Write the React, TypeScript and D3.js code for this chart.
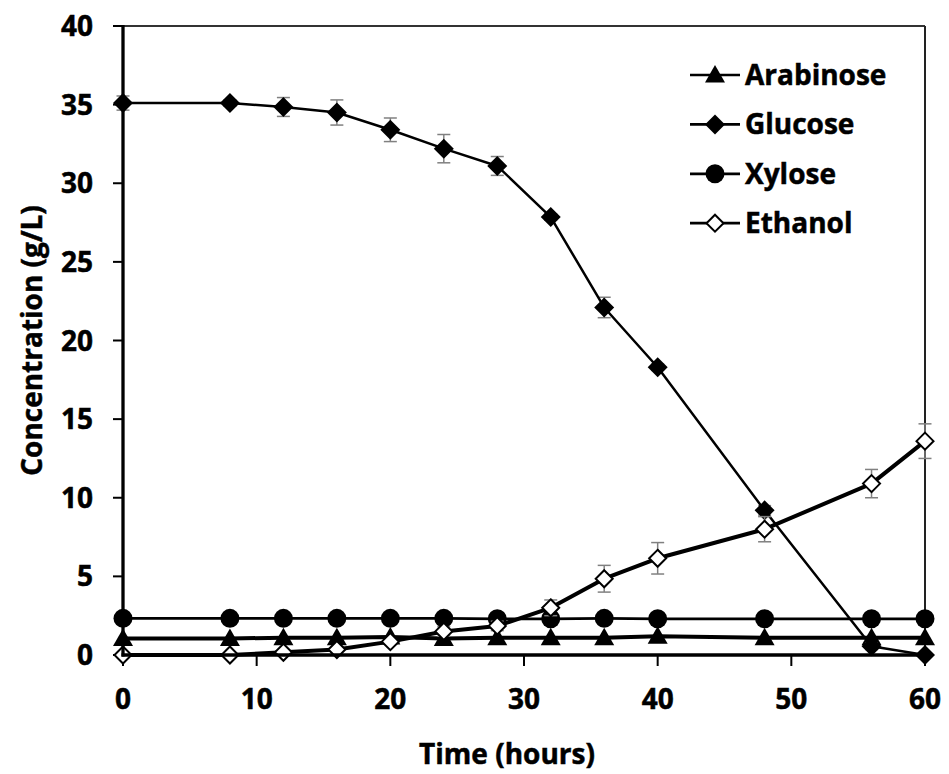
import React from "react";
import * as d3 from "d3";

const times = [0, 8, 12, 16, 20, 24, 28, 32, 36, 40, 48, 56, 60];
const arabinose = [1.05, 1.05, 1.1, 1.1, 1.15, 1.05, 1.1, 1.1, 1.1, 1.2, 1.1, 1.1, 1.1];
const glucose = [35.1, 35.1, 34.85, 34.5, 33.4, 32.2, 31.1, 27.85, 22.1, 18.3, 9.2, 0.55, 0];
const glucoseErr = [0.45, 0.2, 0.6, 0.8, 0.75, 0.9, 0.6, 0.2, 0.65, 0.2, 0.3, 0.2, 0];
const xylose = [2.33, 2.33, 2.33, 2.33, 2.33, 2.33, 2.3, 2.3, 2.33, 2.3, 2.3, 2.3, 2.3];
const ethanol = [0, 0, 0.17, 0.35, 0.85, 1.5, 1.85, 3.0, 4.85, 6.15, 8.0, 10.9, 13.6];
const ethanolErr = [0.05, 0.05, 0.1, 0.1, 0.1, 0.3, 0.3, 0.5, 0.85, 1.0, 0.8, 0.9, 1.1];
const yTicks = [0, 5, 10, 15, 20, 25, 30, 35, 40];
const xTicks = [0, 10, 20, 30, 40, 50, 60];
const seriesNames = ["Arabinose", "Glucose", "Xylose", "Ethanol"];

const W = 949;
const H = 774;
const left = 123;
const right = 925;
const top = 26;
const bottom = 655;
const FONT = "'Open Sans', sans-serif";

type Kind = "triangle" | "diamond" | "circle" | "hollow";

function Marker({ kind, x, y }: { kind: Kind; x: number; y: number }) {
  if (kind === "circle") return <circle cx={x} cy={y} r={9.5} fill="#000" />;
  if (kind === "triangle")
    return <path d={`M${x},${y - 10}L${x + 10},${y + 7.5}L${x - 10},${y + 7.5}Z`} fill="#000" />;
  if (kind === "diamond")
    return <path d={`M${x},${y - 10}L${x + 10},${y}L${x},${y + 10}L${x - 10},${y}Z`} fill="#000" />;
  return (
    <path
      d={`M${x},${y - 8.5}L${x + 8.5},${y}L${x},${y + 8.5}L${x - 8.5},${y}Z`}
      fill="#fff"
      stroke="#000"
      strokeWidth={2}
    />
  );
}

export default function App() {
  const x = d3.scaleLinear().domain([0, 60]).range([left, right]);
  const y = d3.scaleLinear().domain([0, 40]).range([bottom, top]);
  const line = d3
    .line<number>()
    .x((_, i) => x(times[i]))
    .y((d) => y(d));

  const series: { name: string; vals: number[]; err: number[] | null; kind: Kind; lw: number }[] = [
    { name: seriesNames[0], vals: arabinose, err: null, kind: "triangle", lw: 4 },
    { name: seriesNames[1], vals: glucose, err: glucoseErr, kind: "diamond", lw: 2.5 },
    { name: seriesNames[2], vals: xylose, err: null, kind: "circle", lw: 2.7 },
    { name: seriesNames[3], vals: ethanol, err: ethanolErr, kind: "hollow", lw: 4 },
  ];

  const legendY = (i: number) => 75 + i * 49.4;
  const textStyle = { stroke: "#000", strokeWidth: 0.5 } as const;

  return (
    <svg
      width={W}
      height={H}
      style={{ position: "absolute", left: 0, top: 0, background: "#fff" }}
      fontFamily={FONT}
      fontWeight="bold"
    >
      <rect x={0} y={0} width={W} height={H} fill="#fff" />
      {/* frame */}
      <line x1={left - 10} x2={right} y1={top} y2={top} stroke="#333" strokeWidth={2} />
      <line x1={right} x2={right} y1={top} y2={bottom} stroke="#222" strokeWidth={2} />
      {/* y ticks */}
      {yTicks.map((t) => (
        <g key={"y" + t}>
          <line x1={left - 10} x2={left} y1={y(t)} y2={y(t)} stroke="#000" strokeWidth={2} />
          <text x={93} y={y(t)} dy="0.36em" textAnchor="end" fontSize={28} {...textStyle}>
            {t}
          </text>
        </g>
      ))}
      {/* x ticks */}
      {xTicks.map((t) => (
        <g key={"x" + t}>
          <line x1={x(t)} x2={x(t)} y1={bottom} y2={bottom + 11} stroke="#000" strokeWidth={2} />
          <text x={x(t)} y={709} textAnchor="middle" fontSize={28} {...textStyle}>
            {t}
          </text>
        </g>
      ))}
      <text x={507} y={764} textAnchor="middle" fontSize={28} {...textStyle}>
        Time (hours)
      </text>
      <text
        transform={`translate(42,${(top + bottom) / 2}) rotate(-90)`}
        textAnchor="middle"
        fontSize={28}
        {...textStyle}
      >
        Concentration (g/L)
      </text>
      {/* series */}
      {series.map((s) => (
        <g key={s.name}>
          {s.err &&
            s.vals.map((v, i) =>
              s.err![i] > 0 ? (
                <g key={i} stroke="#808080" strokeWidth={1.5}>
                  <line x1={x(times[i])} x2={x(times[i])} y1={y(v - s.err![i])} y2={y(v + s.err![i])} />
                  <line x1={x(times[i]) - 6.5} x2={x(times[i]) + 6.5} y1={y(v - s.err![i])} y2={y(v - s.err![i])} />
                  <line x1={x(times[i]) - 6.5} x2={x(times[i]) + 6.5} y1={y(v + s.err![i])} y2={y(v + s.err![i])} />
                </g>
              ) : null
            )}
          <path d={line(s.vals) || ""} fill="none" stroke="#000" strokeWidth={s.lw} strokeLinejoin="round" />
          {s.vals.map((v, i) => (
            <Marker key={i} kind={s.kind} x={x(times[i])} y={y(v)} />
          ))}
        </g>
      ))}
      {/* axes */}
      <line x1={left} x2={left} y1={top - 1} y2={bottom + 1.5} stroke="#000" strokeWidth={3.3} />
      <line x1={left - 1.5} x2={right + 1} y1={bottom} y2={bottom} stroke="#000" strokeWidth={3.3} />
      {/* legend */}
      {series.map((s, i) => (
        <g key={"lg" + s.name}>
          <line x1={690} x2={740} y1={legendY(i)} y2={legendY(i)} stroke="#000" strokeWidth={2.7} />
          <Marker kind={s.kind} x={715} y={legendY(i)} />
          <text x={745} y={legendY(i)} dy="0.36em" fontSize={28} {...textStyle}>
            {s.name}
          </text>
        </g>
      ))}
    </svg>
  );
}
